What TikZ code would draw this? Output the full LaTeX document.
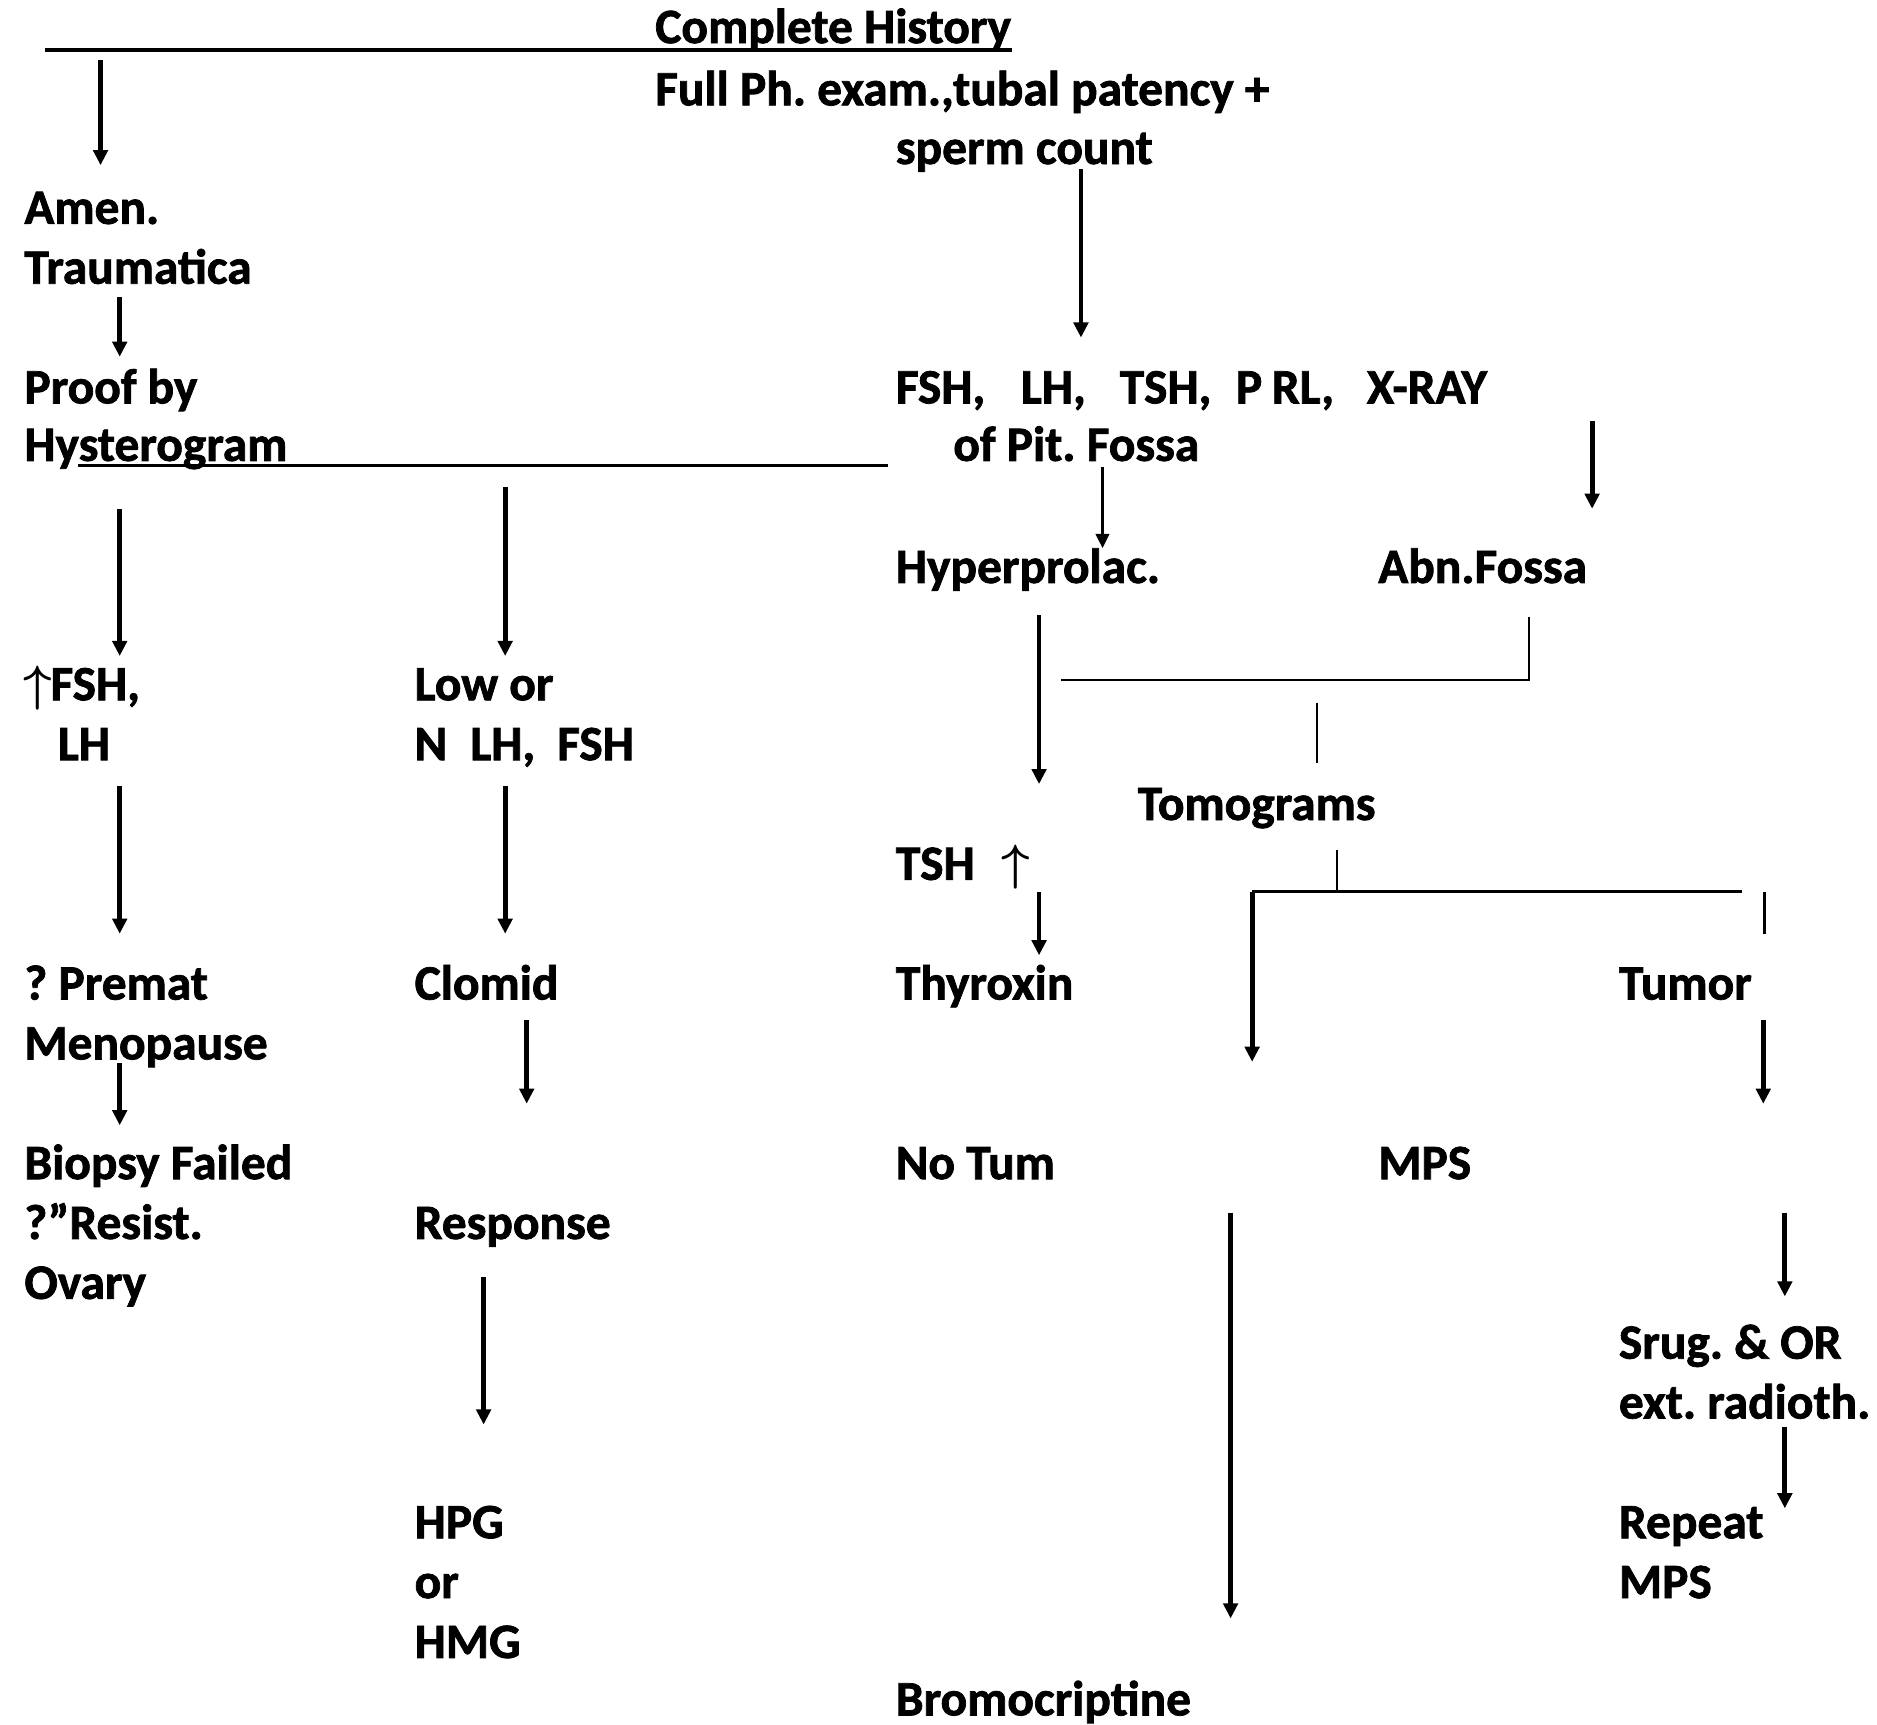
\documentclass[tikz,border=0pt]{standalone}
\usepackage{fontspec}
\setmainfont{Carlito}[BoldFeatures={FakeBold=1.5}]
\usetikzlibrary{arrows.meta}
\frenchspacing
\tikzset{
  lbl/.style={anchor=base west, inner sep=0pt, font=\fontsize{20.65}{25}\selectfont\bfseries},
  arr/.style={line width=2pt, -{Triangle[length=6.3pt,width=6pt]}},
  thinarr/.style={line width=1.4pt, -{Triangle[length=6pt,width=5.5pt]}},
  ln/.style={line width=0.85pt},
  mln/.style={line width=1.25pt},
  tln/.style={line width=1.6pt},
}
\newcommand{\uparr}{{\boldmath$\uparrow$}}
\begin{document}
\begin{tikzpicture}[x=0.5pt,y=-0.5pt]
\useasboundingbox (0,0) rectangle (1568,1441);
% ---- texts
\node[lbl] (ch) at (547,36) {Complete History};
\node[lbl] (fp) at (547,88) {Full Ph. exam.,tubal patency +};
\node[lbl] (sc) at (748,137) {sperm count};
\node[lbl] (am1) at (20,187) {Amen.};
\node[lbl] (am2) at (20,237) {Traumatica};
\node[lbl] (pr1) at (20,337) {Proof by};
\node[lbl] (pr2) at (20,385) {Hysterogram};
\node[lbl] (lab1) at (748,337) {\makebox[52.25pt][l]{FSH,}\makebox[41.25pt][l]{LH,}\makebox[48.5pt][l]{TSH,}\makebox[15pt][l]{P}\makebox[39.7pt][l]{RL,}X-RAY};
\node[lbl] (lab2) at (796,385) {of Pit. Fossa};
\node[lbl] (hyp) at (748,487) {Hyperprolac.};
\node[lbl] (abn) at (1151,487) {Abn.Fossa};
\node[lbl] (hi1) at (19,585) {\uparr\hspace{-0.5pt}FSH,};
\node[lbl] (hi2) at (48,635) {LH};
\node[lbl] (lo1) at (346,585) {Low or};
\node[lbl] (lo2) at (346,635) {\makebox[23.25pt][l]{N}\makebox[36.3pt][l]{LH,}FSH};
\node[lbl] (tom) at (950,685) {Tomograms};
\node[lbl] (tsh) at (748,735) {TSH\hspace{11pt}\uparr};
\node[lbl] (pm1) at (20,835) {? Premat};
\node[lbl] (pm2) at (20,885) {Menopause};
\node[lbl] (clo) at (346,835) {Clomid};
\node[lbl] (thy) at (748,835) {Thyroxin};
\node[lbl] (tum) at (1352,835) {Tumor};
\node[lbl] (bi1) at (20,985) {Biopsy Failed};
\node[lbl] (bi2) at (20,1035) {?”Resist.};
\node[lbl] (bi3) at (20,1085) {Ovary};
\node[lbl] (not) at (748,985) {No Tum};
\node[lbl] (mps) at (1151,985) {MPS};
\node[lbl] (res) at (346,1035) {Response};
\node[lbl] (sr1) at (1352,1135) {Srug. \& OR};
\node[lbl] (sr2) at (1352,1185) {ext. radioth.};
\node[lbl] (hp1) at (346,1285) {HPG};
\node[lbl] (hp2) at (346,1335) {or};
\node[lbl] (hp3) at (346,1385) {HMG};
\node[lbl] (rp1) at (1352,1285) {Repeat};
\node[lbl] (rp2) at (1352,1335) {MPS};
\node[lbl] (bro) at (748,1433) {Bromocriptine};
% ---- coordinates
\coordinate (t0) at (38,42);   \coordinate (t1) at (845,42);
\coordinate (h0) at (65,389);  \coordinate (h1) at (742,389);
\coordinate (b0) at (1277,515); \coordinate (b1) at (1277,568); \coordinate (b2) at (886,568);
\coordinate (v0) at (1100,587); \coordinate (v1) at (1100,637);
\coordinate (w0) at (1117,710); \coordinate (w1) at (1117,745);
\coordinate (g0) at (1046,745); \coordinate (g1) at (1455,745);
\coordinate (u0) at (1474,745); \coordinate (u1) at (1474,780);
\coordinate (a1s) at (84,50);    \coordinate (a1e) at (84,138);
\coordinate (a2s) at (100,248);  \coordinate (a2e) at (100,298);
\coordinate (a3s) at (903,141);  \coordinate (a3e) at (903,282);
\coordinate (a4s) at (1330,352); \coordinate (a4e) at (1330,425);
\coordinate (a5s) at (921,390);  \coordinate (a5e) at (921,458);
\coordinate (a6s) at (100,425);  \coordinate (a6e) at (100,548);
\coordinate (a7s) at (422,407);  \coordinate (a7e) at (422,548);
\coordinate (a8s) at (868,514);  \coordinate (a8e) at (868,655);
\coordinate (a9s) at (100,657);  \coordinate (a9e) at (100,780);
\coordinate (a10s) at (422,657); \coordinate (a10e) at (422,780);
\coordinate (a11s) at (868,745); \coordinate (a11e) at (868,798);
\coordinate (a12s) at (100,888); \coordinate (a12e) at (100,940);
\coordinate (a13s) at (440,852); \coordinate (a13e) at (440,922);
\coordinate (a14e) at (1046,887);
\coordinate (a15s) at (1473,852); \coordinate (a15e) at (1473,922);
\coordinate (a16s) at (404,1067); \coordinate (a16e) at (404,1190);
\coordinate (a17s) at (1028,1013); \coordinate (a17e) at (1028,1352);
\coordinate (a18s) at (1491,1013); \coordinate (a18e) at (1491,1083);
\coordinate (a19s) at (1491,1192); \coordinate (a19e) at (1491,1260);
% ---- plain lines
\draw[tln] (t0) -- (t1);
\draw[mln] (h0) -- (h1);
\draw[ln] (b0) -- (b1) -- (b2);
\draw[ln] (v0) -- (v1);
\draw[ln] (w0) -- (w1);
\draw[mln] (g0) -- (g1);
\draw[ln] (u0) -- (u1);
% ---- arrows
\draw[arr] (a1s) -- (a1e);
\draw[arr] (a2s) -- (a2e);
\draw[arr] (a3s) -- (a3e);
\draw[arr] (a4s) -- (a4e);
\draw[thinarr] (a5s) -- (a5e);
\draw[arr] (a6s) -- (a6e);
\draw[arr] (a7s) -- (a7e);
\draw[arr] (a8s) -- (a8e);
\draw[arr] (a9s) -- (a9e);
\draw[arr] (a10s) -- (a10e);
\draw[arr] (a11s) -- (a11e);
\draw[arr] (a12s) -- (a12e);
\draw[arr] (a13s) -- (a13e);
\draw[arr] (g0) -- (a14e);
\draw[arr] (a15s) -- (a15e);
\draw[arr] (a16s) -- (a16e);
\draw[arr] (a17s) -- (a17e);
\draw[arr] (a18s) -- (a18e);
\draw[arr] (a19s) -- (a19e);
\end{tikzpicture}
\end{document}
